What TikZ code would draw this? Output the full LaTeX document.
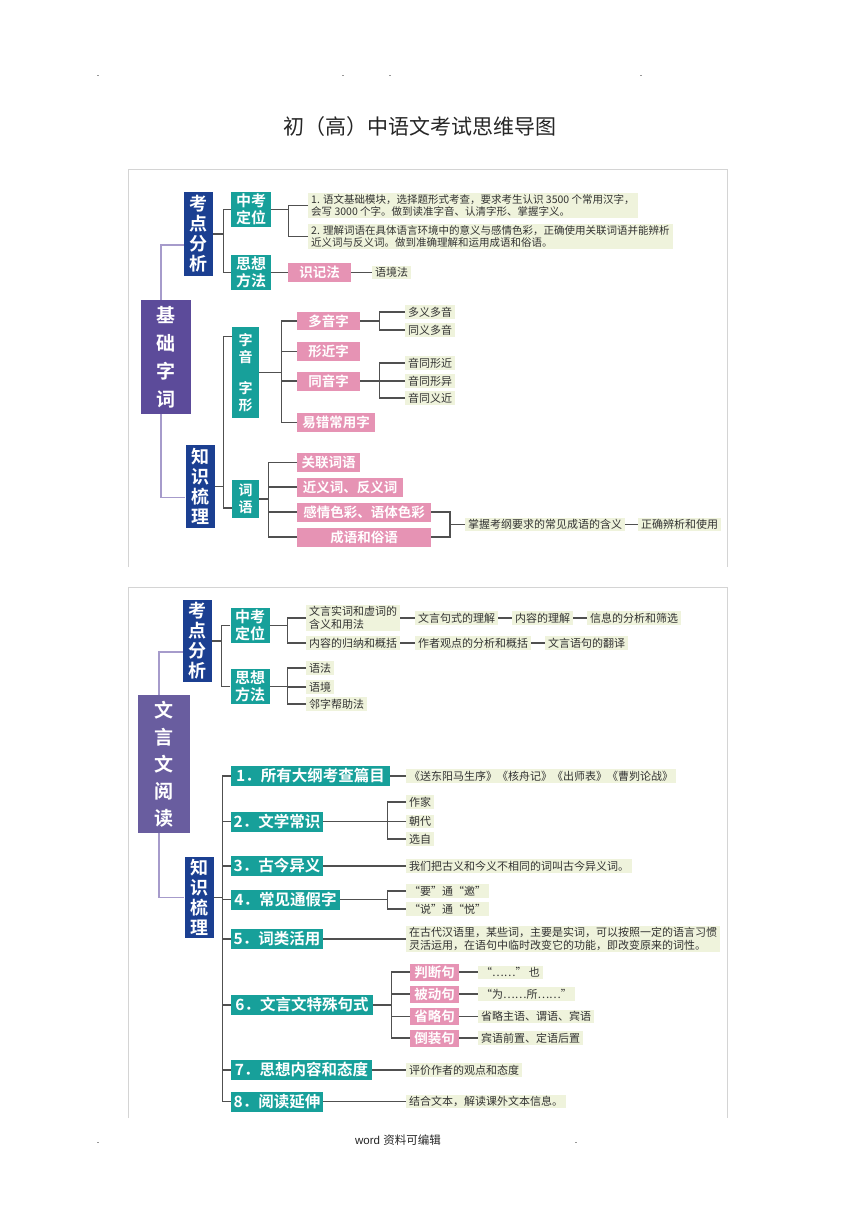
\documentclass[tikz,border=0pt]{standalone}
\usepackage{fontspec}
\setmainfont{Liberation Sans}
\newfontfamily\cjk{Noto Sans CJK SC}
\newfontfamily\cjkb{Noto Sans CJK SC Bold}
\definecolor{purpA}{HTML}{5C4B9A}
\definecolor{purpB}{HTML}{695D9F}
\definecolor{navyC}{HTML}{1B3F91}
\definecolor{tealC}{HTML}{17A09A}
\definecolor{pinkC}{HTML}{E693B4}
\definecolor{greenC}{HTML}{EFF3DC}
\definecolor{textC}{HTML}{333333}
\definecolor{lineC}{HTML}{505050}
\definecolor{plineC}{HTML}{A69BCB}
\definecolor{panC}{HTML}{D4D4D4}
\begin{document}
\begin{tikzpicture}[x=1pt,y=-1pt,
 bx/.style={inner sep=0pt, align=center, text=white},
 purpbox/.style={bx, fill=purpA, font=\cjkb\fontsize{19}{28}\selectfont},
 navybox/.style={bx, fill=navyC, font=\cjkb\fontsize{18}{20}\selectfont, minimum width=29pt},
 tealbox/.style={bx, fill=tealC, font=\cjkb\fontsize{15}{16.5}\selectfont},
 numbox/.style={bx, fill=tealC, font=\cjkb\fontsize{15.5}{17}\selectfont, minimum height=20pt},
 pinkbox/.style={bx, fill=pinkC, font=\cjkb\fontsize{13.5}{15}\selectfont, minimum height=19pt},
 gbox/.style={fill=greenC, text=textC, inner xsep=3pt, inner ysep=1.5pt, font=\cjk\fontsize{11}{12.5}\selectfont, align=left, anchor=west},
 ln/.style={draw=lineC, line width=1.1pt},
 pl/.style={draw=plineC, line width=1.1pt},
 pan/.style={draw=panC, line width=0.8pt},
 dotn/.style={font=\fontsize{9}{10}\selectfont, inner sep=0pt}]
\useasboundingbox (0,0) rectangle (860,1218);
\fill[white] (0,0) rectangle (860,1218);

% header dots and title
\node[dotn] (d1) at (98,76) {.};
\node[dotn] (d2) at (343,76) {.};
\node[dotn] (d3) at (390,76) {.};
\node[dotn] (d4) at (641,76) {.};
\node[font=\cjk\fontsize{21}{24}\selectfont, text=black!85] (title) at (420,127) {初（高）中语文考试思维导图};

% panels
\draw[pan] (128,567) -- (128,169) -- (727,169) -- (727,567);
\draw[pan] (128,1118) -- (128,587) -- (727,587) -- (727,1118);

%% ===== top panel =====
\node[purpbox, minimum width=50pt, minimum height=114pt] (jczc) at (166,357) {基\\础\\字\\词};
\node[navybox, minimum height=84pt] (kdfx1) at (198.5,234) {考\\点\\分\\析};
\node[navybox, minimum height=83pt] (zsl1) at (200,486.5) {知\\识\\梳\\理};
\node[tealbox, minimum width=40pt, minimum height=35pt] (zk1) at (251,209.5) {中考\\定位};
\node[tealbox, minimum width=40pt, minimum height=35pt] (ss1) at (251,272.5) {思想\\方法};
\node[gbox, font=\cjk\fontsize{10.5}{12.5}\selectfont] (t1) at (308,205.5) {1. 语文基础模块，选择题形式考查，要求考生认识 3500 个常用汉字，\\会写 3000 个字。做到读准字音、认清字形、掌握字义。};
\node[gbox, font=\cjk\fontsize{10.5}{12.5}\selectfont] (t2) at (308,236.5) {2. 理解词语在具体语言环境中的意义与感情色彩，正确使用关联词语并能辨析\\近义词与反义词。做到准确理解和运用成语和俗语。};
\node[pinkbox, minimum width=63pt] (sjf) at (319.5,272.5) {识记法};
\node[gbox] (yjf) at (372,272.5) {语境法};

\node[tealbox, font=\cjkb\fontsize{14}{17.5}\selectfont, minimum width=27pt, minimum height=91pt] (zyzx) at (245.5,372.5) {字\\音\\[13pt]字\\形};
\node[tealbox, font=\cjkb\fontsize{14}{17.5}\selectfont, minimum width=27pt, minimum height=38pt] (cy) at (245.5,499) {词\\语};

\node[pinkbox, minimum width=63pt, minimum height=18pt] (dyz) at (328.5,321) {多音字};
\node[pinkbox, minimum width=63pt] (xjz) at (328.5,351.5) {形近字};
\node[pinkbox, minimum width=63pt] (tyz) at (328.5,381) {同音字};
\node[pinkbox, minimum width=78pt] (ycz) at (336,422.5) {易错常用字};
\node[gbox] (dydy) at (405,312) {多义多音};
\node[gbox] (tydy) at (405,330) {同义多音};
\node[gbox] (ytxj) at (405,363) {音同形近};
\node[gbox] (ytxy) at (405,381) {音同形异};
\node[gbox] (ytyj) at (405,398) {音同义近};

\node[pinkbox, minimum width=63pt] (gl) at (328.5,462.5) {关联词语};
\node[pinkbox, minimum width=106pt] (jy) at (350,487) {近义词、反义词};
\node[pinkbox, minimum width=134pt] (gq) at (364,512) {感情色彩、语体色彩};
\node[pinkbox, minimum width=134pt] (cyy) at (364,537) {成语和俗语};
\coordinate (m1) at (450,524.5);
\node[gbox] (zw) at (465,524.5) {掌握考纲要求的常见成语的含义};
\node[gbox] (zq) at (638,524.5) {正确辨析和使用};

% top connectors
\draw[pl] ([xshift=-5pt]jczc.north) |- ([yshift=-11pt]kdfx1.west);
\draw[pl] ([xshift=-5pt]jczc.south) |- ([yshift=-11pt]zsl1.west);
\draw[ln] (kdfx1.east) -- ++(10,0);
\draw[ln] (zk1.west) -| ([xshift=10pt]kdfx1.east);
\draw[ln] (ss1.west) -| ([xshift=10pt]kdfx1.east);
\draw[ln] (zk1.east) -- ++(17,0);
\draw[ln] (t1.west) -| ([xshift=17pt]zk1.east);
\draw[ln] (t2.west) -| ([xshift=17pt]zk1.east);
\draw[ln] (ss1.east) -- (sjf.west);
\draw[ln] (sjf.east) -- (yjf.west);
\draw[ln] (zsl1.east) -- ++(9,0);
\draw[ln] ([yshift=-10pt]zyzx.north west) -| ([xshift=9pt]zsl1.east);
\draw[ln] ([yshift=-9pt]cy.west) -| ([xshift=9pt]zsl1.east);
\draw[ln] (zyzx.east) -- ++(22,0);
\foreach \c in {dyz,xjz,tyz,ycz} \draw[ln] (\c.west) -| ([xshift=22pt]zyzx.east);
\draw[ln] (dyz.east) -- ++(19,0);
\foreach \c in {dydy,tydy} \draw[ln] (\c.west) -| ([xshift=19pt]dyz.east);
\draw[ln] (tyz.east) -- ++(19,0);
\foreach \c in {ytxj,ytxy,ytyj} \draw[ln] (\c.west) -| ([xshift=19pt]tyz.east);
\draw[ln] (cy.east) -- ++(9,0);
\foreach \c in {gl,jy,gq,cyy} \draw[ln] (\c.west) -| ([xshift=9pt]cy.east);
\draw[ln] (gq.east) -| (m1);
\draw[ln] (cyy.east) -| (m1);
\draw[ln] (m1) -- (zw.west);
\draw[ln] (zw.east) -- (zq.west);

%% ===== bottom panel =====
\node[purpbox, fill=purpB, font=\cjkb\fontsize{19}{27}\selectfont, minimum width=52pt, minimum height=138pt] (wyw) at (164,764) {文\\言\\文\\阅\\读};
\node[navybox, minimum height=82pt] (kdfx2) at (197.5,641) {考\\点\\分\\析};
\node[navybox, minimum height=81pt] (zsl2) at (199,897.5) {知\\识\\梳\\理};
\node[tealbox, minimum width=39pt, minimum height=35pt] (zk2) at (250,625.5) {中考\\定位};
\node[tealbox, minimum width=39pt, minimum height=35pt] (ss2) at (250,686.5) {思想\\方法};

\node[gbox] (a1) at (306,618) {文言实词和虚词的\\含义和用法};
\node[gbox] (a2) at (415,618) {文言句式的理解};
\node[gbox] (a3) at (512,618) {内容的理解};
\node[gbox] (a4) at (587,618) {信息的分析和筛选};
\node[gbox] (b1) at (306,643) {内容的归纳和概括};
\node[gbox] (b2) at (415,643) {作者观点的分析和概括};
\node[gbox] (b3) at (545,643) {文言语句的翻译};
\node[gbox] (c1) at (306,668) {语法};
\node[gbox] (c2) at (306,687) {语境};
\node[gbox] (c3) at (306,704) {邻字帮助法};

\node[numbox, minimum width=159pt] (n1) at (310.5,776) {1．所有大纲考查篇目};
\node[numbox, minimum width=92pt] (n2) at (277,821.5) {2．文学常识};
\node[numbox, minimum width=92pt] (n3) at (277,866) {3．古今异义};
\node[numbox, minimum width=109pt] (n4) at (285.5,899.5) {4．常见通假字};
\node[numbox, minimum width=92pt] (n5) at (277,939) {5．词类活用};
\node[numbox, minimum width=142pt] (n6) at (302,1005) {6．文言文特殊句式};
\node[numbox, minimum width=141pt] (n7) at (301.5,1070) {7．思想内容和态度};
\node[numbox, minimum width=92pt] (n8) at (277,1101.5) {8．阅读延伸};

\node[gbox] (p1) at (406,776) {《送东阳马生序》《核舟记》《出师表》《曹刿论战》};
\node[gbox] (q1) at (406,802) {作家};
\node[gbox] (q2) at (406,821.5) {朝代};
\node[gbox] (q3) at (406,839) {选自};
\node[gbox] (r3) at (406,866) {我们把古义和今义不相同的词叫古今异义词。};
\node[gbox] (s1) at (406,891) {“要”通“邀”};
\node[gbox] (s2) at (406,909) {“说”通“悦”};
\node[gbox] (t5) at (406,939) {在古代汉语里，某些词，主要是实词，可以按照一定的语言习惯\\灵活运用，在语句中临时改变它的功能，即改变原来的词性。};
\node[pinkbox, minimum width=49pt, minimum height=17pt] (pd) at (434.5,972) {判断句};
\node[pinkbox, minimum width=49pt, minimum height=17pt] (bd) at (434.5,994) {被动句};
\node[pinkbox, minimum width=49pt, minimum height=17pt] (sl) at (434.5,1016.5) {省略句};
\node[pinkbox, minimum width=49pt, minimum height=17pt] (dz) at (434.5,1038) {倒装句};
\node[gbox] (u1) at (478,972) {“……” 也};
\node[gbox] (u2) at (478,994) {“为……所……”};
\node[gbox] (u3) at (478,1016.5) {省略主语、谓语、宾语};
\node[gbox] (u4) at (478,1038) {宾语前置、定语后置};
\node[gbox] (v7) at (406,1070) {评价作者的观点和态度};
\node[gbox] (v8) at (406,1101.5) {结合文本，解读课外文本信息。};

% bottom connectors
\draw[pl] ([xshift=-5pt]wyw.north) |- ([yshift=-11pt]kdfx2.west);
\draw[pl] ([xshift=-5pt]wyw.south) |- (zsl2.west);
\draw[ln] (kdfx2.east) -- ++(9.5,0);
\draw[ln] (zk2.west) -| ([xshift=9.5pt]kdfx2.east);
\draw[ln] (ss2.west) -| ([xshift=9.5pt]kdfx2.east);
\draw[ln] (zk2.east) -- ++(18,0);
\foreach \c in {a1,b1} \draw[ln] (\c.west) -| ([xshift=18pt]zk2.east);
\draw[ln] (ss2.east) -- ++(18,0);
\foreach \c in {c1,c2,c3} \draw[ln] (\c.west) -| ([xshift=18pt]ss2.east);
\draw[ln] (a1.east |- a2.west) -- (a2.west);
\draw[ln] (a2.east) -- (a3.west);
\draw[ln] (a3.east) -- (a4.west);
\draw[ln] (b1.east) -- (b2.west);
\draw[ln] (b2.east) -- (b3.west);

\draw[ln] (zsl2.east) -- ++(8.5,0);
\foreach \c in {n1,n2,n3,n4,n5,n6,n7,n8} \draw[ln] (\c.west) -| ([xshift=8.5pt]zsl2.east);
\draw[ln] (n1.east) -- (p1.west);
\draw[ln] (n2.east) -- ++(64,0);
\foreach \c in {q1,q2,q3} \draw[ln] (\c.west) -| ([xshift=64pt]n2.east);
\draw[ln] (n3.east) -- (r3.west);
\draw[ln] (n4.east) -- ++(47,0);
\foreach \c in {s1,s2} \draw[ln] (\c.west) -| ([xshift=47pt]n4.east);
\draw[ln] (n5.east) -- (t5.west);
\draw[ln] (n6.east) -- ++(18,0);
\foreach \c in {pd,bd,sl,dz} \draw[ln] (\c.west) -| ([xshift=18pt]n6.east);
\draw[ln] (pd.east) -- (u1.west);
\draw[ln] (bd.east) -- (u2.west);
\draw[ln] (sl.east) -- (u3.west);
\draw[ln] (dz.east) -- (u4.west);
\draw[ln] (n7.east) -- (v7.west);
\draw[ln] (n8.east) -- (v8.west);

% footer
\node[dotn] (f1) at (98,1143) {.};
\node[dotn] (f2) at (576,1143) {.};
\node[font=\fontsize{11.5}{13}\selectfont, text=black!85] (foot) at (398,1140) {word \cjk 资料可编辑};
\end{tikzpicture}
\end{document}
